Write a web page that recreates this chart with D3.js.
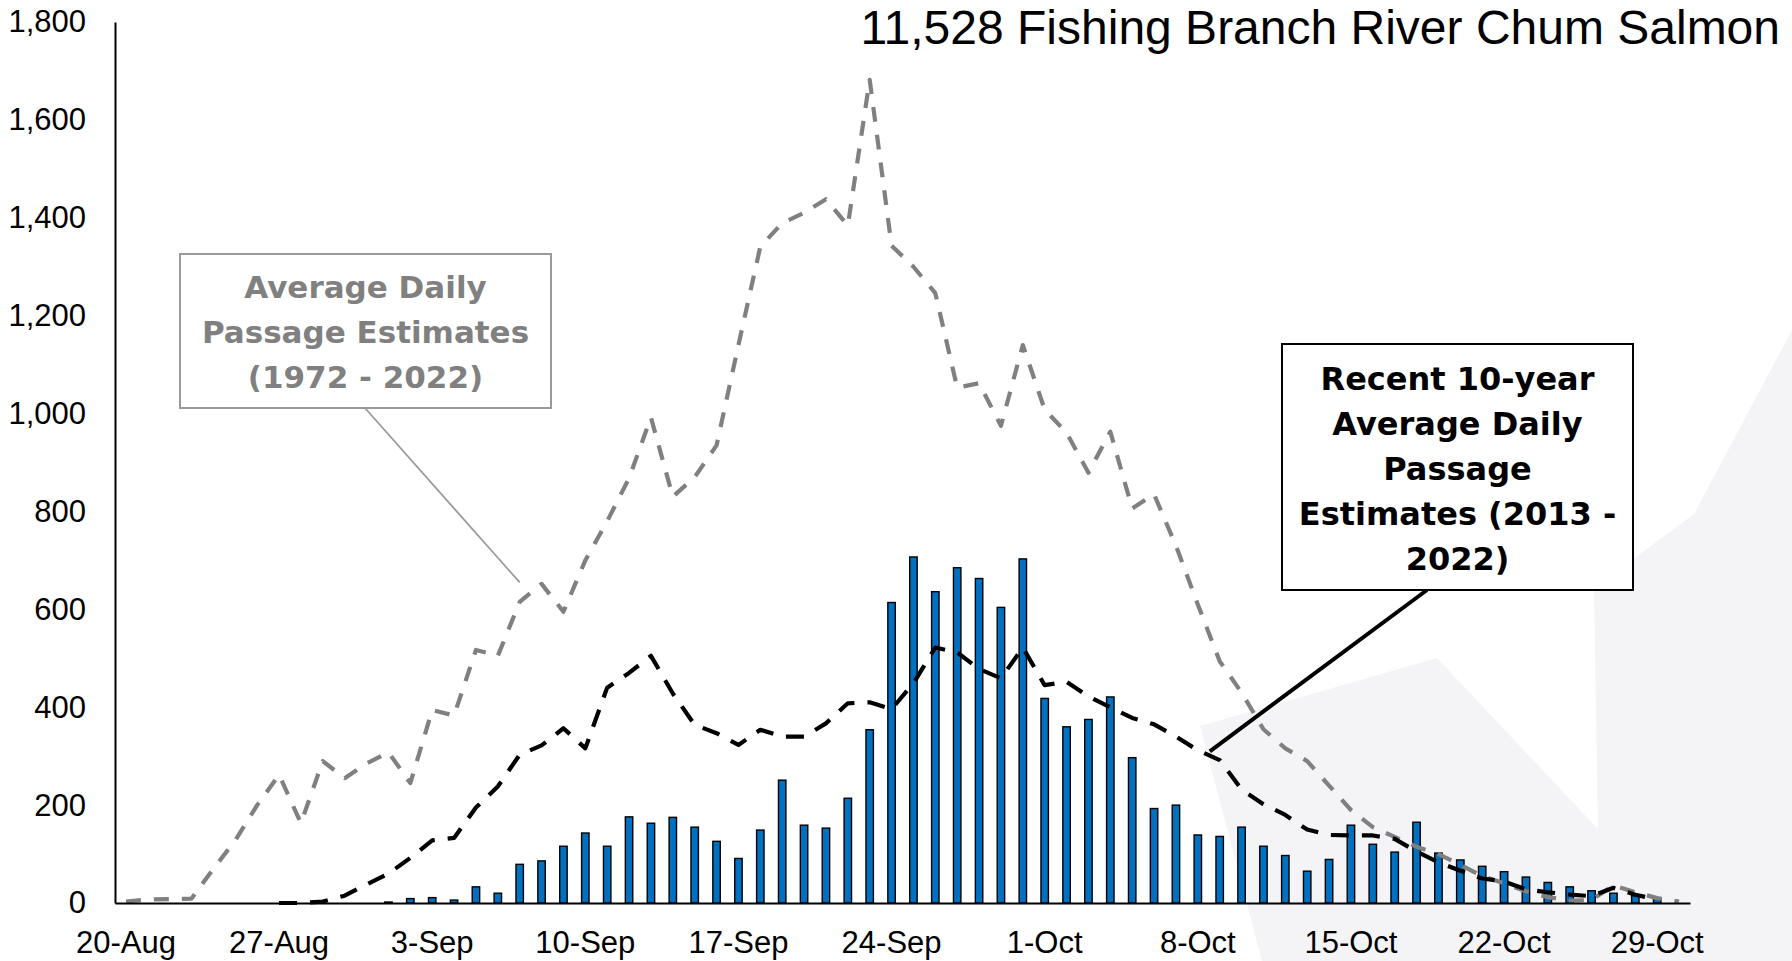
<!DOCTYPE html>
<html>
<head>
<meta charset="utf-8">
<script src="https://cdn.jsdelivr.net/npm/d3@7"></script>
<style>
  html, body { margin: 0; padding: 0; background: #fff; }
  svg { display: block; }
</style>
</head>
<body>
<div id="chart"></div>
<script>
const width = 1792;
const height = 961;

// 20-Aug .. 30-Oct, one category per day
const days = d3.timeDay.range(new Date(2022, 7, 20), new Date(2022, 9, 31));
const categories = days.map(d3.timeFormat("%-d-%b"));
const tickLabels = categories.filter((d, i) => i % 7 === 0);
const yTicks = [0, 200, 400, 600, 800, 1000, 1200, 1400, 1600, 1800];

// daily counts (bars)
const daily2023 = [
  0, 0, 0, 0, 0, 0, 0, 0, 0, 0, 0, 0,
  2, 9, 11, 6, 33, 20, 79, 86, 116, 143,
  116, 176, 163, 175, 155, 126, 91, 149, 251, 159, 153, 214, 354,
  614, 707, 636, 685, 663, 604, 703, 418, 360, 375, 421, 297, 193, 200,
  139, 136, 155, 116, 97, 65, 89, 159, 120, 104, 165, 102, 88, 75, 64,
  53, 42, 33, 25, 20, 15, 10, 0
];

// average daily passage 1972 - 2022 (grey dashed)
const avgAllYears = [
  3, 7, 8, 9, 70, 128, 200, 262, 163, 290, 255, 285, 308, 245,
  394, 383, 517, 505, 615, 652, 595, 700, 780, 868, 992, 830, 870, 935,
  1140, 1341, 1389, 1410, 1438, 1384, 1682, 1343, 1300, 1246, 1053, 1062,
  975, 1140, 1008, 961, 879, 963, 806, 835, 730, 610, 494, 430, 355, 316,
  290, 240, 190, 155, 135, 115, 100, 78, 55, 40, 24, 12, 5, 6, 36, 22, 10, 3
];

// recent 10-year average 2013 - 2022 (black dashed)
const avgRecent10 = [
  null, null, null, null, null, null, null,
  0, 0, 3, 15, 38, 60, 92, 128, 133, 195, 238, 303, 322, 357, 316,
  440, 470, 505, 428, 364, 347, 323, 354, 340, 340, 367, 408, 410, 396,
  449, 522, 512, 478, 459, 522, 445, 452, 422, 400, 378, 365, 340, 312,
  292, 232, 202, 180, 150, 139, 138, 138, 131, 105, 83, 66, 50, 44, 28,
  22, 17, 14, 31, 17, 7, null
];

const svg = d3.select("#chart").append("svg")
    .attr("width", width)
    .attr("height", height);

// faint background watermark
svg.append("path")
    .attr("d", "M1200,726 L1437,658 L1598,829 L1594,588 L1694,514 L1792,330 L1792,961 L1262,961 Z")
    .attr("fill", "#f4f4f6");

const x = d3.scaleBand().domain(categories).range([115, 1690]).padding(0);
const y = d3.scaleLinear().domain([0, 1800]).range([903, 22]);
const bw = x.bandwidth();
const cx = (i) => x(categories[i]) + bw / 2;

// bars
const barW = bw * 0.34;
svg.append("g").selectAll("rect")
    .data(daily2023.map((v, i) => ({ v, i })).filter(d => d.v > 0))
    .enter().append("rect")
    .attr("x", d => cx(d.i) - barW / 2)
    .attr("y", d => y(d.v))
    .attr("width", barW)
    .attr("height", d => y(0) - y(d.v))
    .attr("fill", "#0070c0")
    .attr("stroke", "#000")
    .attr("stroke-width", 1.4);

const line = d3.line()
    .defined(d => d != null)
    .x((d, i) => cx(i))
    .y(d => y(d));

svg.append("path")
    .datum(avgAllYears)
    .attr("d", line)
    .attr("fill", "none")
    .attr("stroke", "#808080")
    .attr("stroke-width", 4.2)
    .attr("stroke-linejoin", "round")
    .attr("stroke-dasharray", "15,13");

svg.append("path")
    .datum(avgRecent10)
    .attr("d", line)
    .attr("fill", "none")
    .attr("stroke", "#000")
    .attr("stroke-width", 4.2)
    .attr("stroke-linejoin", "round")
    .attr("stroke-dasharray", "18,13");

// axes
const xAxis = svg.append("g")
    .attr("transform", `translate(0,${y(0)})`)
    .call(d3.axisBottom(x).tickValues(tickLabels).tickSize(0).tickPadding(28));
xAxis.select(".domain").attr("stroke", "#000").attr("stroke-width", 2);
xAxis.selectAll("text")
    .attr("fill", "#000")
    .style("font-family", "'Liberation Sans', Arial, sans-serif")
    .style("font-size", "31px");

const yAxis = svg.append("g")
    .attr("transform", "translate(115,0)")
    .call(d3.axisLeft(y).tickValues(yTicks).tickSize(0).tickPadding(29).tickFormat(d3.format(",")));
yAxis.select(".domain").attr("stroke", "#000").attr("stroke-width", 2);
yAxis.selectAll("text")
    .attr("fill", "#000")
    .style("font-family", "'Liberation Sans', Arial, sans-serif")
    .style("font-size", "31px");

// title
svg.append("text")
    .attr("x", 1780)
    .attr("y", 44)
    .attr("text-anchor", "end")
    .style("font-family", "'Liberation Sans', Arial, sans-serif")
    .style("font-size", "48px")
    .attr("fill", "#000")
    .text("11,528 Fishing Branch River Chum Salmon");

// callouts
function callout(box, lines, color, stroke, strokeW, fontSize, target, lineW) {
    const g = svg.append("g");
    g.append("line")
        .attr("x1", box.ax).attr("y1", box.y + box.h)
        .attr("x2", target[0]).attr("y2", target[1])
        .attr("stroke", stroke).attr("stroke-width", lineW);
    g.append("rect")
        .attr("x", box.x).attr("y", box.y)
        .attr("width", box.w).attr("height", box.h)
        .attr("fill", "#fff")
        .attr("stroke", stroke).attr("stroke-width", strokeW);
    g.selectAll("text").data(lines).enter().append("text")
        .attr("x", box.x + box.w / 2)
        .attr("y", (d, i) => box.firstBase + i * 45)
        .attr("text-anchor", "middle")
        .style("font-family", "'DejaVu Sans', sans-serif")
        .style("font-weight", "bold")
        .style("font-size", fontSize + "px")
        .attr("fill", color)
        .text(d => d);
}

callout({ x: 180, y: 254, w: 371, h: 154, ax: 365, firstBase: 298 },
    ["Average Daily", "Passage Estimates", "(1972 - 2022)"],
    "#808080", "#9a9a9a", 2, 31, [cx(18), y(655)], 1.8);

callout({ x: 1282, y: 344, w: 351, h: 246, ax: 1427, firstBase: 390 },
    ["Recent 10-year", "Average Daily", "Passage", "Estimates (2013 -", "2022)"],
    "#000", "#000", 2, 32, [cx(49) + bw * 0.55, y(310)], 4);
</script>
</body>
</html>
